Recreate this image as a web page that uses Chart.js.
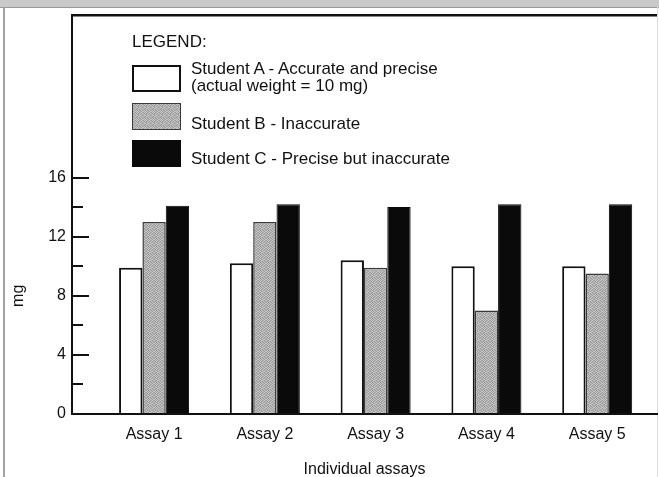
<!DOCTYPE html>
<html>
<head>
<meta charset="utf-8">
<script src="https://cdn.jsdelivr.net/npm/chart.js@4/dist/chart.umd.min.js"></script>
<style>
  html, body { margin: 0; padding: 0; background: #fff; }
  body { width: 659px; height: 477px; position: relative; overflow: hidden; font-family: "Liberation Sans", Arial, sans-serif; color: #111; }
  #band { position: absolute; left: 0; top: 0; width: 659px; height: 7px; background: #c9c9c9; border-bottom: 1px solid #9a9a9a; }
  #lborder { position: absolute; left: 3px; top: 7px; width: 2px; height: 470px; background: #a2a2a2; }
  #rborder { position: absolute; left: 657px; top: 7px; width: 1px; height: 470px; background: #dcdcdc; }
  #c { position: absolute; left: 0; top: 0; }
  #legend { position: absolute; left: 0; top: 0; width: 659px; height: 200px; pointer-events: none; }
  .lt { position: absolute; font-size: 17px; line-height: 17px; white-space: nowrap; color: #111; }
  .sw { position: absolute; box-sizing: border-box; width: 49px; height: 27px; }
</style>
</head>
<body>
<div id="band"></div>
<div id="lborder"></div>
<div id="rborder"></div>
<canvas id="c" width="659" height="477"></canvas>
<div id="legend"></div>
<script>
// ---- data ----
const categories = ['Assay 1', 'Assay 2', 'Assay 3', 'Assay 4', 'Assay 5'];
const studentA = [9.9, 10.2, 10.4, 10.0, 10.0];
const studentB = [13.0, 13.0, 9.9, 7.0, 9.5];
const studentC = [14.1, 14.2, 14.0, 14.2, 14.2];
const seriesNames = ['Student A - Accurate and precise', 'Student B - Inaccurate', 'Student C - Precise but inaccurate'];
const seriesNotes = ['(actual weight = 10 mg)', '', ''];
const legendTitle = 'LEGEND:';
const yMajorTicks = [0, 4, 8, 12, 16];
const yMinorTicks = [2, 6, 10, 14];
const yMax = 27;
const yTitle = 'mg';
const xTitle = 'Individual assays';

// ---- stipple pattern for Student B ----
function makeStipple() {
  const p = document.createElement('canvas');
  p.width = 8; p.height = 8;
  const g = p.getContext('2d');
  const m = [
    [0,2,1,0,2,0,1,2],
    [1,0,2,1,0,1,2,0],
    [2,1,0,2,1,2,0,1],
    [0,2,1,0,0,1,2,0],
    [1,0,2,2,1,0,0,2],
    [2,1,0,1,2,2,1,0],
    [0,2,1,0,1,0,2,1],
    [1,0,0,2,0,1,0,2]
  ];
  const shades = ['#c4c4c4', '#9a9a9a', '#b0b0b0'];
  for (let y = 0; y < 8; y++) for (let x = 0; x < 8; x++) { g.fillStyle = shades[m[y][x]]; g.fillRect(x, y, 1, 1); }
  return p;
}
const stippleCanvas = makeStipple();
const stipple = document.getElementById('c').getContext('2d').createPattern(stippleCanvas, 'repeat');

const fills = ['#ffffff', stipple, '#0a0a0a'];
const borders = ['#111111', '#3a3a3a', '#0a0a0a'];
const borderWidths = [2, 1.5, 1];
const seriesValues = [studentA, studentB, studentC];

const datasets = seriesValues.map((vals, s) => ({
  label: seriesNames[s],
  data: vals.map((v, i) => ({ x: i + 1, y: v })),
  backgroundColor: fills[s],
  borderColor: borders[s],
  borderWidth: borderWidths[s],
  categoryPercentage: 0.632,
  barPercentage: 1.0
}));

const FONT = '"Liberation Sans", Arial, sans-serif';

const extras = {
  id: 'extras',
  afterDraw(chart) {
    const y = chart.scales.y;
    const ctx = chart.ctx;
    ctx.save();
    ctx.strokeStyle = '#111';
    ctx.lineWidth = 2;
    yMinorTicks.forEach(v => {
      const py = Math.round(y.getPixelForValue(v));
      ctx.beginPath();
      ctx.moveTo(y.right - 1, py);
      ctx.lineTo(y.right + 11, py);
      ctx.stroke();
    });
    const cy = (y.getPixelForValue(yMajorTicks[0]) + y.getPixelForValue(yMajorTicks[yMajorTicks.length - 1])) / 2;
    ctx.translate(19, cy);
    ctx.rotate(-Math.PI / 2);
    ctx.font = '16px ' + FONT;
    ctx.fillStyle = '#111';
    ctx.textAlign = 'center';
    ctx.textBaseline = 'middle';
    ctx.fillText(yTitle, 0, 0);
    ctx.restore();
  }
};

new Chart(document.getElementById('c'), {
  type: 'bar',
  data: { datasets },
  plugins: [extras],
  options: {
    responsive: false,
    animation: false,
    layout: { padding: { left: 0, top: 15, right: 2, bottom: 0 } },
    plugins: { legend: { display: false }, tooltip: { enabled: false } },
    scales: {
      x: {
        type: 'linear',
        offset: false,
        min: 0.259,
        max: 5.54,
        afterBuildTicks: s => { s.ticks = categories.map((_, i) => ({ value: i + 1 })); },
        afterFit: s => { s.height = 63; s.paddingLeft = 0; s.paddingRight = 0; },
        grid: { display: false, drawTicks: false, offset: false },
        border: { display: true, color: '#111', width: 2 },
        ticks: {
          autoSkip: false,
          maxRotation: 0,
          padding: 11,
          color: '#111',
          font: { family: FONT, size: 16 },
          callback: v => categories[Math.round(v) - 1] || ''
        },
        title: { display: true, text: xTitle, color: '#111', font: { family: FONT, size: 16, lineHeight: 1.2 }, padding: { top: 0, bottom: -2 } }
      },
      y: {
        min: 0,
        max: yMax,
        afterBuildTicks: s => { s.ticks = yMajorTicks.concat([yMax]).map(v => ({ value: v })); },
        afterFit: s => { s.width = 72; s.paddingTop = 0; s.paddingBottom = 0; },
        grid: {
          display: true,
          drawOnChartArea: true,
          drawTicks: true,
          tickLength: -17,
          lineWidth: c => (c.tick && c.tick.value === yMax) ? 2.5 : 2,
          color: c => (c.tick && c.tick.value === yMax) ? '#111' : 'rgba(0,0,0,0)',
          tickColor: c => (c.tick && c.tick.value === yMax) ? 'rgba(0,0,0,0)' : '#111'
        },
        border: { display: true, color: '#111', width: 2 },
        ticks: {
          padding: 23,
          color: '#111',
          font: { family: FONT, size: 16 },
          callback: v => (v === yMax ? '' : String(v))
        }
      }
    }
  }
});

// ---- HTML legend built from the series arrays ----
(function buildLegend() {
  const L = document.getElementById('legend');
  const t = document.createElement('div');
  t.className = 'lt'; t.style.left = '132px'; t.style.top = '33px'; t.textContent = legendTitle;
  L.appendChild(t);
  const swTops = [65, 103, 140];
  const txtTops = [60, 115, 150];
  const stippleURL = stippleCanvas.toDataURL();
  seriesNames.forEach((name, s) => {
    const sw = document.createElement('div');
    sw.className = 'sw';
    sw.style.left = '132px';
    sw.style.top = swTops[s] + 'px';
    sw.style.border = borderWidths[s] + 'px solid ' + borders[s];
    if (s === 1) { sw.style.backgroundImage = 'url(' + stippleURL + ')'; }
    else { sw.style.background = fills[s]; }
    L.appendChild(sw);
    const tx = document.createElement('div');
    tx.className = 'lt'; tx.style.left = '191px'; tx.style.top = txtTops[s] + 'px';
    tx.textContent = name;
    L.appendChild(tx);
    if (seriesNotes[s]) {
      const n = document.createElement('div');
      n.className = 'lt'; n.style.left = '191px'; n.style.top = (txtTops[s] + 17) + 'px';
      n.textContent = seriesNotes[s];
      L.appendChild(n);
    }
  });
})();
</script>
</body>
</html>
